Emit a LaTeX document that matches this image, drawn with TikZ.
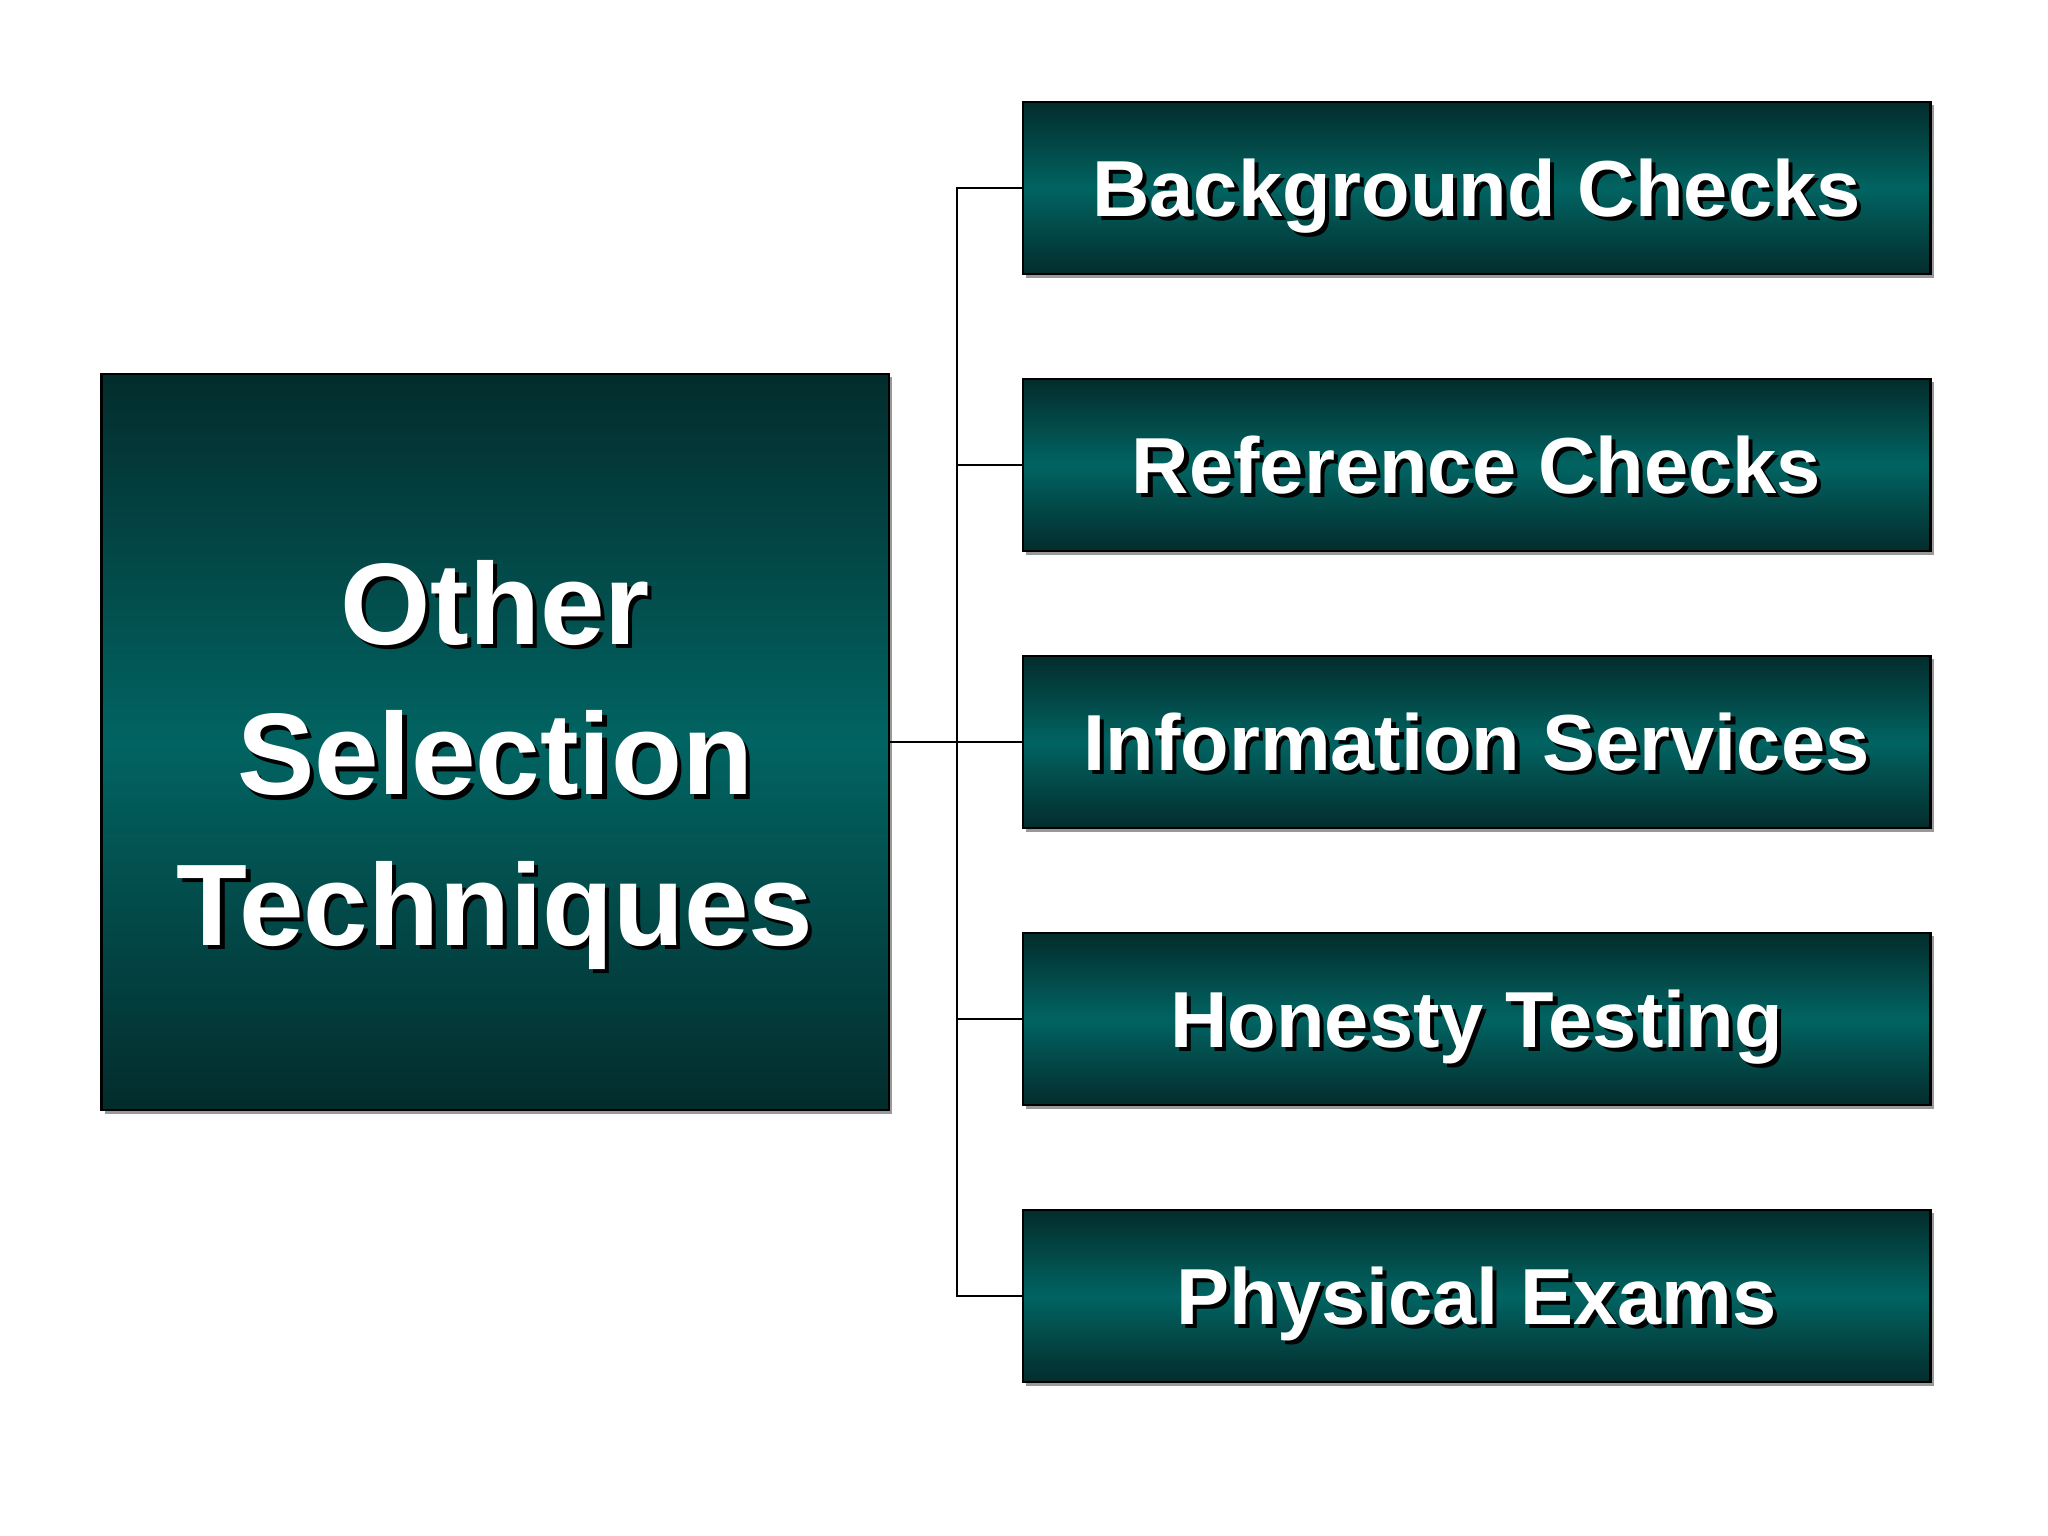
\documentclass[tikz,border=0pt]{standalone}
\usepackage{fontspec}
\setmainfont{Liberation Sans}
\usetikzlibrary{positioning,shadows}
\definecolor{tealdark}{HTML}{032C2C}
\definecolor{teallight}{HTML}{016462}
% white text with a black shadow
\newcommand{\shtext}[1]{\leavevmode\rlap{\hspace{1.2pt}\raisebox{-1.2pt}{\color{black}#1}}#1}

\begin{document}
\begin{tikzpicture}[x = 0.01cm, y = -0.01cm,
        box/.style = {draw = black, line width = 0.7pt, inner sep = 0pt,
            top color = tealdark, bottom color = tealdark, middle color = teallight,
            drop shadow = {shadow xshift = 1pt, shadow yshift = -1pt, fill = gray!80, opacity = 1}},
        item/.style = {box, minimum width = 9.07cm, minimum height = 1.72cm, text = white,
            text height = 16pt, text depth = 0pt, font = \bfseries\fontsize{22.6}{28}\selectfont},
        link/.style = {draw = black, line width = 0.6pt}]
    \useasboundingbox (0,0) rectangle (2048,1536);
    \node [box, minimum width = 7.87cm, minimum height = 7.36cm] (main) at (495,742) {};
    \node [text = white, align = center, font = \bfseries\fontsize{33}{42.7}\selectfont]
        (mainlabel) at ([yshift = -0.25cm]main.center)
        {\shtext{Other}\\\shtext{Selection}\\\shtext{Techniques}};
    \foreach \name/\label [count = \i from 0] in {bg/Background Checks, ref/Reference Checks,
            info/Information Services, hon/Honesty Testing, phys/Physical Exams}
        \node [item] (\name) at (1476.5,188+277*\i) {\shtext{\label}};
    \coordinate (trunk) at (957,742);
    \draw [link] (main.east) -- (info.west);
    \foreach \name in {bg,ref,hon,phys}
        \draw [link] (\name.west) -| (trunk);
\end{tikzpicture}
\end{document}
